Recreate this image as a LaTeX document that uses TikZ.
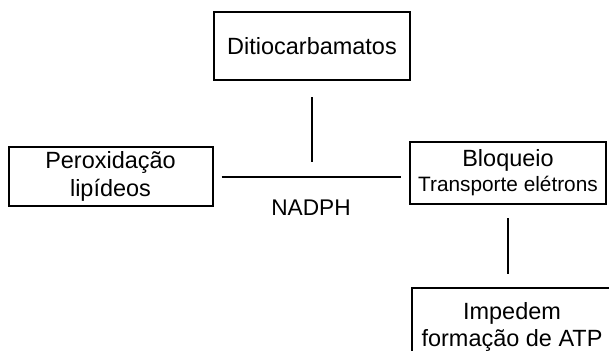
\documentclass[tikz,border=0pt]{standalone}
\usepackage{fontspec}
\setmainfont{Liberation Sans}
\begin{document}
\begin{tikzpicture}[x=0.75pt, y=-0.75pt,
    caixa/.style={draw, line width=1.5pt, align=center, inner sep=0pt, font=\fontsize{17.6}{21}\selectfont},
    liga/.style={line width=1.5pt}]
    \useasboundingbox (0,0) rectangle (609,350);
    \clip (0,0) rectangle (609,350);
    \node[caixa, minimum width=147pt, minimum height=51pt] (ditio) at (312,46) {Ditiocarbamatos};
    \node[caixa, minimum width=153pt, minimum height=44.25pt] (perox) at (110.5,176.5) {Peroxidação\\lipídeos};
    \node[caixa, minimum width=147pt, minimum height=46.5pt, font=\fontsize{17.6}{18.75}\selectfont] (bloq) at (508,173) {Bloqueio\\{\fontsize{15.6}{18.75}\selectfont Transporte elétrons}};
    \node[caixa, minimum width=150pt, minimum height=58.5pt, font=\fontsize{17.6}{20.25}\selectfont] (impede) at (512,327) {Impedem\\formação de ATP};
    \node[font=\fontsize{17}{20}\selectfont] (nadph) at (311,208) {NADPH};
    \draw[liga, shorten <=12pt, shorten >=11pt] (ditio.south) -- (ditio.south |- perox.east);
    \draw[liga, shorten <=6pt, shorten >=6pt] (perox.east) -- (perox.east -| bloq.west);
    \draw[liga, shorten <=9.75pt, shorten >=9.75pt] (bloq.south) -- (bloq.south |- impede.north);
\end{tikzpicture}
\end{document}
